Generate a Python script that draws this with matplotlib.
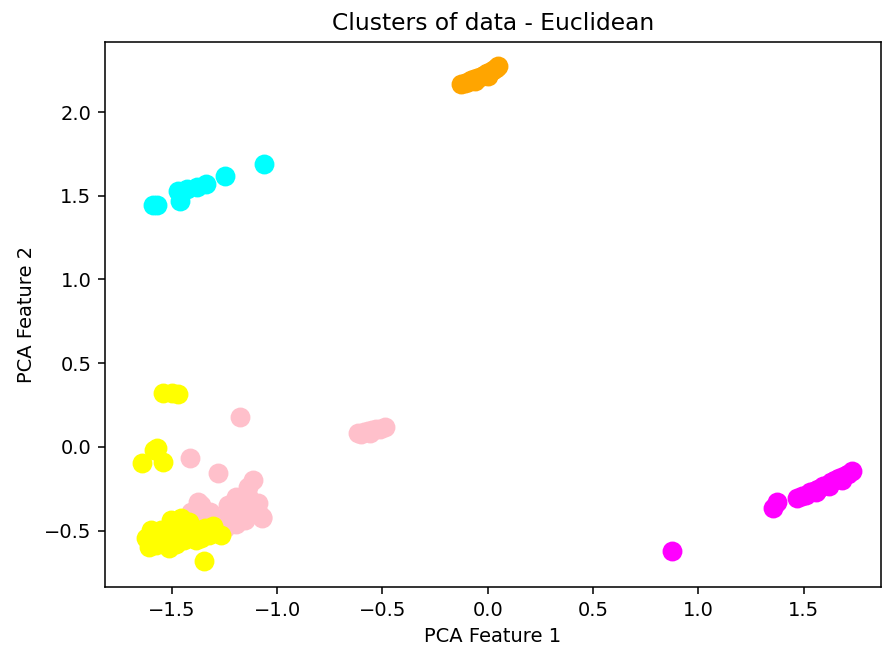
import matplotlib
matplotlib.use('Agg')
import matplotlib.pyplot as plt

# PCA-projected points, grouped by cluster label
orange_x = [-0.125, -0.11, -0.095, -0.08, -0.065, -0.05, -0.035, -0.02, -0.005, 0.01, 0.025, 0.04, 0.047, -0.06, 0.0]
orange_y = [2.165, 2.175, 2.18, 2.19, 2.195, 2.205, 2.21, 2.22, 2.23, 2.24, 2.25, 2.265, 2.275, 2.185, 2.215]

cyan_x = [-1.59, -1.57, -1.46, -1.47, -1.43, -1.38, -1.34, -1.25, -1.065]
cyan_y = [1.445, 1.445, 1.47, 1.53, 1.54, 1.55, 1.57, 1.62, 1.69]

pink_x = [-1.411, -1.364, -1.317, -1.269, -1.222, -1.175, -1.127, -1.089, -1.070, -1.151, -1.198,
          -1.246, -1.293, -1.341, -1.388, -1.232, -1.137,
          -1.179, -1.415, -1.282, -1.117, -1.14, -1.197, -1.378, -1.093, -1.07,
          -0.614, -0.59, -0.57, -0.55, -0.53, -0.51, -0.486, -0.60, -0.56]
pink_y = [-0.388, -0.346, -0.388, -0.436, -0.406, -0.376, -0.346, -0.388, -0.424, -0.436, -0.460,
          -0.484, -0.484, -0.436, -0.424, -0.346, -0.293,
          0.18, -0.066, -0.154, -0.197, -0.24, -0.30, -0.33, -0.335, -0.418,
          0.084, 0.09, 0.095, 0.10, 0.105, 0.11, 0.12, 0.075, 0.085]

yellow_x = [-1.625, -1.610, -1.577, -1.544, -1.515, -1.482, -1.444, -1.411, -1.373, -1.341, -1.307,
            -1.269, -1.506, -1.458, -1.496, -1.435, -1.553, -1.388, -1.601, -1.468, -1.421, -1.530,
            -1.364, -1.326,
            -1.54, -1.50, -1.473, -1.573, -1.585, -1.644, -1.544, -1.349]
yellow_y = [-0.543, -0.597, -0.585, -0.555, -0.603, -0.579, -0.555, -0.525, -0.496, -0.484, -0.472,
            -0.525, -0.436, -0.424, -0.496, -0.484, -0.496, -0.555, -0.496, -0.525, -0.448, -0.585,
            -0.543, -0.525,
            0.32, 0.325, 0.318, -0.006, -0.02, -0.095, -0.09, -0.68]

magenta_x = [1.469, 1.49, 1.51, 1.53, 1.55, 1.57, 1.59, 1.61, 1.63, 1.65, 1.67, 1.69, 1.71, 1.73,
             1.56, 1.62, 1.68, 1.356, 1.375, 0.876]
magenta_y = [-0.304, -0.295, -0.285, -0.27, -0.26, -0.25, -0.235, -0.225, -0.21, -0.2, -0.185, -0.175,
             -0.16, -0.145, -0.27, -0.235, -0.195, -0.364, -0.33, -0.621]

fig = plt.figure(figsize=(882 / 140, 649 / 140), dpi=140)
ax = fig.add_axes([0.119, 0.0955, 0.88, 0.8398])

ax.scatter(orange_x, orange_y, s=85, c='orange')
ax.scatter(cyan_x, cyan_y, s=85, c='cyan')
ax.scatter(pink_x, pink_y, s=85, c='pink')
ax.scatter(yellow_x, yellow_y, s=85, c='yellow')
ax.scatter(magenta_x, magenta_y, s=85, c='magenta')

ax.set_xlim(-1.818, 1.868)
ax.set_ylim(-0.836, 2.418)
ax.set_title('Clusters of data - Euclidean')
ax.set_xlabel('PCA Feature 1')
ax.set_ylabel('PCA Feature 2')

fig.savefig('out.png', dpi=140)
